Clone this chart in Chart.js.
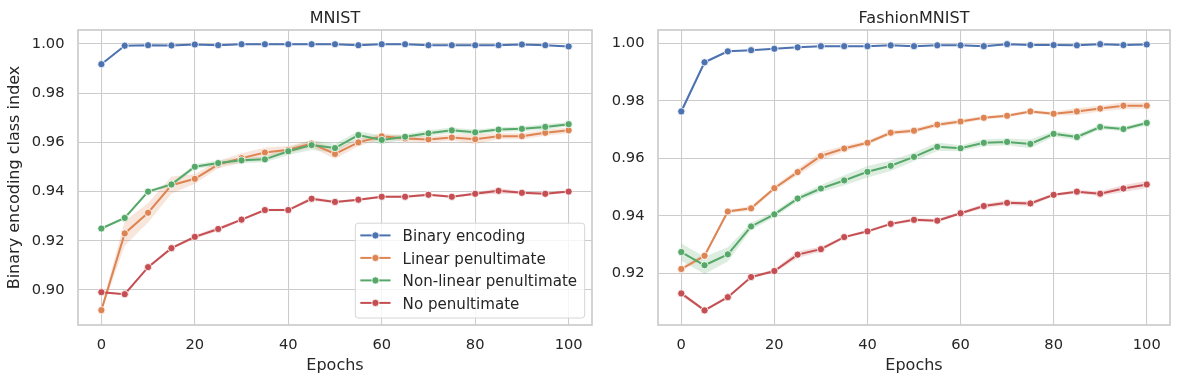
<!DOCTYPE html>
<html>
<head>
<meta charset="utf-8">
<script src="https://cdn.jsdelivr.net/npm/chart.js@4.4.1/dist/chart.umd.min.js"></script>
<style>
body { margin: 0; background: #ffffff; }
#mnistBox { position: absolute; left: 0; top: 0; width: 600px; height: 384px; }
#fashionBox { position: absolute; left: 600px; top: 0; width: 583px; height: 384px; }
</style>
</head>
<body>
<div id="mnistBox"><canvas id="mnistCanvas"></canvas></div>
<div id="fashionBox"><canvas id="fashionCanvas"></canvas></div>
<script>
const epochs = [0,5,10,15,20,25,30,35,40,45,50,55,60,65,70,75,80,85,90,95,100];
const seriesNames = ["Binary encoding", "Linear penultimate", "Non-linear penultimate", "No penultimate"];
const seriesColors = ["#4c72b0", "#dd8452", "#55a868", "#c44e52"];
const xTicks = [0,20,40,60,80,100];
const mnistYTicks = [0.90,0.92,0.94,0.96,0.98,1.00];
const fashionYTicks = [0.92,0.94,0.96,0.98,1.00];

// MNIST means
const mnistBinary = [0.9918,0.9993,0.9995,0.9994,0.9998,0.9995,0.9999,0.9999,0.9999,0.9999,0.9999,0.9995,0.9999,0.9999,0.9995,0.9995,0.9995,0.9995,0.9998,0.9995,0.9990];
const mnistLinear = [0.8918,0.9230,0.9314,0.9426,0.9452,0.9510,0.9536,0.9559,0.9570,0.9595,0.9553,0.9600,0.9625,0.9616,0.9612,0.9620,0.9613,0.9625,0.9625,0.9639,0.9649];
const mnistNonLinear = [0.9250,0.9293,0.9400,0.9429,0.9501,0.9516,0.9527,0.9531,0.9564,0.9589,0.9577,0.9630,0.9610,0.9623,0.9637,0.9649,0.9641,0.9652,0.9655,0.9663,0.9674];
const mnistNone = [0.8991,0.8983,0.9093,0.9170,0.9216,0.9248,0.9286,0.9325,0.9325,0.9371,0.9358,0.9367,0.9379,0.9379,0.9387,0.9379,0.9391,0.9403,0.9395,0.9391,0.9400];
// MNIST band half widths
const mnistBinaryErr = [0.0004,0.0002,0.0002,0.0002,0.0002,0.0002,0.0002,0.0002,0.0002,0.0002,0.0002,0.0002,0.0002,0.0002,0.0002,0.0002,0.0002,0.0002,0.0002,0.0002,0.0002];
const mnistLinearErr = [0.0010,0.0050,0.0040,0.0035,0.0020,0.0015,0.0020,0.0020,0.0015,0.0015,0.0020,0.0015,0.0012,0.0012,0.0012,0.0012,0.0020,0.0012,0.0012,0.0012,0.0012];
const mnistNonLinearErr = [0.0004,0.0005,0.0006,0.0008,0.0010,0.0010,0.0012,0.0012,0.0015,0.0020,0.0018,0.0015,0.0018,0.0010,0.0012,0.0012,0.0010,0.0010,0.0010,0.0012,0.0008];
const mnistNoneErr = [0.0004,0.0003,0.0004,0.0005,0.0008,0.0008,0.0005,0.0005,0.0005,0.0008,0.0005,0.0005,0.0005,0.0005,0.0005,0.0005,0.0005,0.0012,0.0005,0.0005,0.0005];

// FashionMNIST means
const fashionBinary = [0.9763,0.9934,0.9972,0.9976,0.9981,0.9986,0.9990,0.9990,0.9990,0.9993,0.9990,0.9993,0.9993,0.9990,0.9997,0.9994,0.9994,0.9993,0.9997,0.9994,0.9996];
const fashionLinear = [0.9215,0.9261,0.9415,0.9426,0.9496,0.9552,0.9608,0.9634,0.9654,0.9689,0.9696,0.9717,0.9728,0.9741,0.9748,0.9763,0.9755,0.9763,0.9773,0.9783,0.9783];
const fashionNonLinear = [0.9274,0.9228,0.9266,0.9363,0.9405,0.9460,0.9495,0.9523,0.9553,0.9574,0.9605,0.9640,0.9635,0.9654,0.9657,0.9650,0.9685,0.9674,0.9709,0.9702,0.9723];
const fashionNone = [0.9130,0.9071,0.9117,0.9187,0.9208,0.9265,0.9284,0.9326,0.9346,0.9372,0.9386,0.9383,0.9409,0.9434,0.9445,0.9443,0.9473,0.9484,0.9477,0.9495,0.9509];
// FashionMNIST band half widths
const fashionBinaryErr = [0.0010,0.0006,0.0003,0.0002,0.0002,0.0002,0.0002,0.0002,0.0002,0.0002,0.0002,0.0002,0.0002,0.0003,0.0002,0.0002,0.0002,0.0002,0.0002,0.0002,0.0002];
const fashionLinearErr = [0.0008,0.0008,0.0005,0.0008,0.0008,0.0012,0.0015,0.0010,0.0008,0.0008,0.0008,0.0008,0.0008,0.0006,0.0006,0.0006,0.0006,0.0012,0.0010,0.0012,0.0010];
const fashionNonLinearErr = [0.0030,0.0030,0.0025,0.0012,0.0010,0.0010,0.0012,0.0018,0.0020,0.0018,0.0015,0.0015,0.0010,0.0012,0.0012,0.0015,0.0010,0.0010,0.0008,0.0008,0.0008];
const fashionNoneErr = [0.0008,0.0005,0.0005,0.0005,0.0006,0.0012,0.0008,0.0005,0.0005,0.0005,0.0006,0.0006,0.0005,0.0008,0.0008,0.0008,0.0005,0.0006,0.0008,0.0012,0.0012];

const textColor = "#262626";
const gridColor = "#cccccc";
const fontFamily = "'DejaVu Sans', sans-serif";

function hexToRgba(hex, a) {
    const n = parseInt(hex.slice(1), 16);
    return "rgba(" + (n >> 16) + "," + ((n >> 8) & 255) + "," + (n & 255) + "," + a + ")";
}

function buildDatasets(means, errs) {
    const bands = [];
    const lines = [];
    for (let s = 0; s < means.length; s++) {
        const color = seriesColors[s];
        bands.push({
            data: epochs.map((e, i) => ({x: e, y: means[s][i] + errs[s][i]})),
            borderWidth: 0, pointRadius: 0, fill: false, order: 10
        });
        bands.push({
            data: epochs.map((e, i) => ({x: e, y: means[s][i] - errs[s][i]})),
            borderWidth: 0, pointRadius: 0, fill: "-1",
            backgroundColor: hexToRgba(color, 0.2), order: 10
        });
        lines.push({
            label: seriesNames[s],
            data: epochs.map((e, i) => ({x: e, y: means[s][i]})),
            borderColor: color,
            backgroundColor: color,
            borderWidth: 2,
            pointRadius: 3.6,
            pointBorderWidth: 0.8,
            pointBorderColor: "#ffffff",
            pointBackgroundColor: color,
            fill: false,
            order: 4 - s
        });
    }
    return bands.concat(lines);
}

const decor = {
    id: "decor",
    beforeDraw(chart) {
        const ctx = chart.ctx;
        ctx.save();
        ctx.fillStyle = "#ffffff";
        ctx.fillRect(0, 0, chart.width, chart.height);
        ctx.restore();
    },
    afterDatasetsDraw(chart, args, opts) {
        const ctx = chart.ctx;
        const a = chart.chartArea;
        ctx.save();
        ctx.strokeStyle = gridColor;
        ctx.lineWidth = 1.7;
        ctx.strokeRect(a.left, a.top, a.right - a.left, a.bottom - a.top);

        ctx.fillStyle = textColor;
        ctx.font = "16px " + fontFamily;
        ctx.textAlign = "center";
        ctx.textBaseline = "alphabetic";
        ctx.fillText(opts.title, (a.left + a.right) / 2, 22.5);

        if (opts.legend) {
            const fs = 15.1;
            ctx.font = fs + "px " + fontFamily;
            let tw = 0;
            seriesNames.forEach(n => { tw = Math.max(tw, ctx.measureText(n).width); });
            const padL = 5, handle = 2 * fs, gap = 0.8 * fs, padR = 7.6;
            const boxW = padL + handle + gap + tw + padR;
            const boxH = 94.8;
            const right = a.right - 7.3;
            const bottom = a.bottom - 7;
            const left = right - boxW;
            const top = bottom - boxH;
            ctx.beginPath();
            ctx.roundRect(left, top, boxW, boxH, 3);
            ctx.fillStyle = "rgba(255,255,255,0.8)";
            ctx.fill();
            ctx.strokeStyle = "#d6d6d6";
            ctx.lineWidth = 1;
            ctx.stroke();
            ctx.textAlign = "left";
            seriesNames.forEach((n, i) => {
                const cy = top + 12.2 + i * 22.5;
                const hx = left + padL;
                ctx.strokeStyle = seriesColors[i];
                ctx.lineWidth = 2;
                ctx.beginPath();
                ctx.moveTo(hx, cy);
                ctx.lineTo(hx + handle, cy);
                ctx.stroke();
                ctx.beginPath();
                ctx.arc(hx + handle / 2, cy, 3.6, 0, 2 * Math.PI);
                ctx.fillStyle = seriesColors[i];
                ctx.fill();
                ctx.strokeStyle = "#ffffff";
                ctx.lineWidth = 0.8;
                ctx.stroke();
                ctx.fillStyle = textColor;
                ctx.fillText(n, hx + handle + gap, cy + 5.7);
            });
        }
        ctx.restore();
    }
};

function makeChart(canvasId, datasets, opts) {
    return new Chart(document.getElementById(canvasId), {
        type: "line",
        data: { datasets: datasets },
        plugins: [decor],
        options: {
            responsive: true,
            maintainAspectRatio: false,
            animation: false,
            layout: { padding: { top: 30, right: opts.padRight, left: 0, bottom: 0 } },
            plugins: {
                legend: { display: false },
                tooltip: { enabled: false },
                decor: { title: opts.title, legend: opts.legend }
            },
            scales: {
                x: {
                    type: "linear",
                    min: -5,
                    max: 105,
                    afterBuildTicks: s => { s.ticks = xTicks.map(v => ({value: v})); },
                    afterFit: s => { s.height = 59; },
                    grid: { color: gridColor, lineWidth: 1.07, drawTicks: false },
                    border: { display: false },
                    ticks: { color: textColor, padding: 11, font: { family: fontFamily, size: 14.67 } },
                    title: {
                        display: true, text: "Epochs", color: textColor,
                        font: { family: fontFamily, size: 16 },
                        padding: { top: 0, bottom: 8.4 }
                    }
                },
                y: {
                    type: "linear",
                    min: opts.yMin,
                    max: opts.yMax,
                    afterBuildTicks: s => { s.ticks = opts.yTicks.map(v => ({value: v})); },
                    afterFit: s => { s.width = opts.axisWidth; },
                    grid: { color: gridColor, lineWidth: 1.07, drawTicks: false },
                    border: { display: false },
                    ticks: {
                        color: textColor, padding: 13.5,
                        font: { family: fontFamily, size: 14.67 },
                        callback: v => v.toFixed(2)
                    },
                    title: {
                        display: opts.yTitle !== "", text: opts.yTitle, color: textColor,
                        font: { family: fontFamily, size: 16 },
                        padding: { top: 5.6, bottom: 0 }
                    }
                }
            }
        }
    });
}

makeChart("mnistCanvas",
    buildDatasets([mnistBinary, mnistLinear, mnistNonLinear, mnistNone],
                  [mnistBinaryErr, mnistLinearErr, mnistNonLinearErr, mnistNoneErr]),
    { title: "MNIST", legend: true, padRight: 8, axisWidth: 78,
      yMin: 0.88577, yMax: 1.00569, yTicks: mnistYTicks,
      yTitle: "Binary encoding class index" });

makeChart("fashionCanvas",
    buildDatasets([fashionBinary, fashionLinear, fashionNonLinear, fashionNone],
                  [fashionBinaryErr, fashionLinearErr, fashionNonLinearErr, fashionNoneErr]),
    { title: "FashionMNIST", legend: false, padRight: 13, axisWidth: 58,
      yMin: 0.90202, yMax: 1.00463, yTicks: fashionYTicks,
      yTitle: "" });
</script>
</body>
</html>
